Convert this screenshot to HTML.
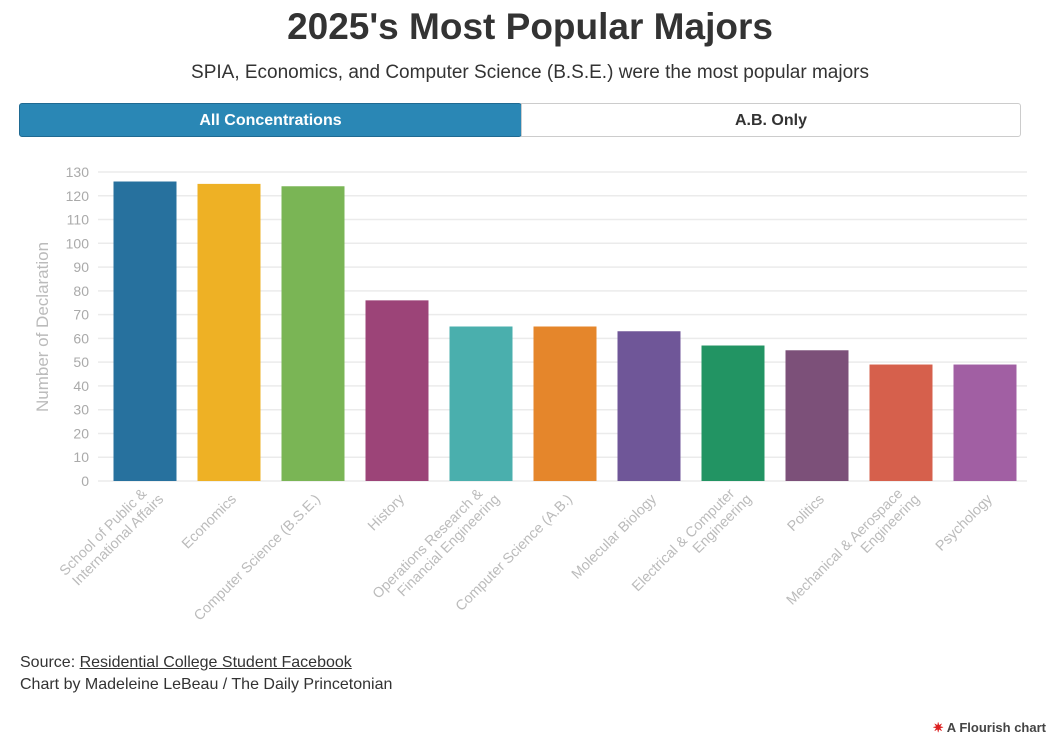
<!DOCTYPE html>
<html><head><meta charset="utf-8">
<style>
body{margin:0;width:1060px;height:742px;background:#fff;font-family:"Liberation Sans",sans-serif;overflow:hidden;position:relative}
h1{position:absolute;top:6px;left:0;width:1060px;text-align:center;margin:0;font-size:37px;font-weight:bold;color:#333}
.sub{position:absolute;top:62px;width:1060px;text-align:center;font-size:19px;color:#333}
.btn{position:absolute;top:103px;height:34px;line-height:34px;text-align:center;font-size:16px;font-weight:bold;box-sizing:border-box}
.foot{position:absolute;left:20px;font-size:16px;color:#333}
</style></head><body>
<h1>2025's Most Popular Majors</h1>
<div class="sub">SPIA, Economics, and Computer Science (B.S.E.) were the most popular majors</div>
<div class="btn" style="left:19px;width:503px;background:#2a87b5;color:#fff;border:1px solid #1f6a92;border-radius:3px">All Concentrations</div>
<div class="btn" style="left:521px;width:500px;background:#fff;color:#333;border:1px solid #ccc;border-radius:0 3px 3px 0">A.B. Only</div>
<svg id="chart" width="1060" height="742" style="position:absolute;left:0;top:0"></svg>
<div class="foot" style="top:654px">Source: <span style="text-decoration:underline">Residential College Student Facebook</span></div>
<div class="foot" style="top:676px">Chart by Madeleine LeBeau / The Daily Princetonian</div>
<div style="position:absolute;right:14px;top:720px;font-size:13px;font-weight:bold;color:#444"><span style="color:#d22">✷</span> A Flourish chart</div>
<script>
const categories=["School of Public &|International Affairs","Economics","Computer Science (B.S.E.)","History","Operations Research &|Financial Engineering","Computer Science (A.B.)","Molecular Biology","Electrical & Computer|Engineering","Politics","Mechanical & Aerospace|Engineering","Psychology"];
const values=[126,125,124,76,65,65,63,57,55,49,49];
const colors=["#27719e","#eeb125","#7ab555","#9c4478","#4aafad","#e5862b","#6f5698","#229463","#7c5079","#d6604c","#a15fa3"];
const yTicks=[0,10,20,30,40,50,60,70,80,90,100,110,120,130];
const svg=document.getElementById('chart');const NS="http://www.w3.org/2000/svg";
const x0=103,x1=1027,y0=481,y1=172,ymax=130;
const bw=(x1-x0)/categories.length;
const y=v=>y0-(v/ymax)*(y0-y1);
const xc=i=>x0+bw*(i+0.5);
function mk(t,a){const e=document.createElementNS(NS,t);for(const k in a)e.setAttribute(k,a[k]);svg.appendChild(e);return e;}
yTicks.forEach(t=>{
 const l=mk('line',{x1:98,x2:x1,y1:y(t),y2:y(t),stroke:'#ebebeb','stroke-width':1.5});
 
 
 const tx=mk('text',{x:89,y:y(t)+5,'text-anchor':'end','font-size':14,fill:'#aaa','font-family':'Liberation Sans'});
 tx.textContent=t;
 
 
});
const yt=mk('text',{transform:'translate(48,327) rotate(-90)','text-anchor':'middle','font-size':17,fill:'#bbb','font-family':'Liberation Sans'});
yt.textContent='Number of Declaration';


values.forEach((v,i)=>{
 const r=mk('rect',{x:xc(i)-31.5,y:y(v),width:63,height:y0-y(v),fill:colors[i]});
 
 
 const lines=categories[i].split('|');
 const g=mk('text',{transform:`translate(${xc(i)+8},${500}) rotate(-45)`,'text-anchor':'end','font-size':14.3,fill:'#bbb','font-family':'Liberation Sans'});
 
 
 lines.forEach((s,j)=>{const ts=document.createElementNS(NS,'tspan');ts.setAttribute('x',j*8);ts.setAttribute('y',(j-(lines.length-1))*16+(lines.length>1?8:0));ts.textContent=s;g.appendChild(ts);});
});
</script>
</body></html>
